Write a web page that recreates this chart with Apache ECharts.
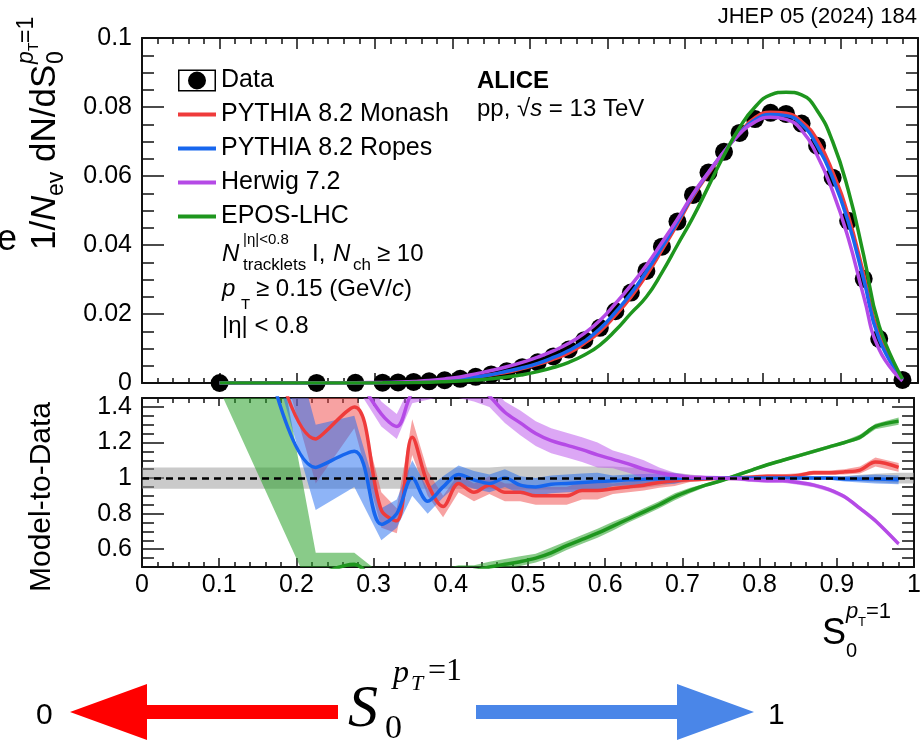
<!DOCTYPE html>
<html>
<head>
<meta charset="utf-8">
<script src="https://cdn.jsdelivr.net/npm/echarts@6/dist/echarts.min.js"></script>
<style>
  html, body { margin: 0; padding: 0; background: #fff; }
  #chart-container { width: 924px; height: 741px; }
</style>
</head>
<body>
<div id="chart-container"></div>
<script>
// bin centres of the measurement
const dataX = [0.1, 0.225, 0.275, 0.31, 0.33, 0.35, 0.37, 0.39,
  0.41, 0.43, 0.45, 0.47, 0.49, 0.51, 0.53, 0.55, 0.57, 0.59,
  0.61, 0.63, 0.65, 0.67, 0.69,
  0.71, 0.73, 0.75, 0.77, 0.79, 0.81, 0.83, 0.85, 0.87, 0.89,
  0.91, 0.93, 0.95, 0.98];

// top panel: 1/Nev dN/dS0
const dataY = [0.0, 0.00003, 0.00006, 0.0001, 0.00018, 0.0003, 0.00048, 0.0008,
  0.0012, 0.0018, 0.0025, 0.0034, 0.0046, 0.0060, 0.0077, 0.0097, 0.0124, 0.0160,
  0.0208, 0.0262, 0.0325, 0.0395, 0.0468,
  0.0545, 0.0610, 0.0670, 0.0725, 0.0765, 0.0783, 0.0780, 0.0752, 0.0688, 0.0595,
  0.0470, 0.0302, 0.0128, 0.0009];
const monashY = [0.0, 0.00004, 0.00008, 0.00008, 0.00014, 0.00037, 0.00047, 0.00067,
  0.00116, 0.00166, 0.0024, 0.0031, 0.0042, 0.0054, 0.0069, 0.0087, 0.0115, 0.0149,
  0.0196, 0.0249, 0.0312, 0.0385, 0.0461,
  0.0540, 0.0607, 0.0670, 0.0725, 0.0769, 0.0785, 0.0782, 0.0758, 0.0705, 0.0612,
  0.0486, 0.0316, 0.0138, 0.0010];
const ropesY = [0.0, 0.00003, 0.00007, 0.00007, 0.00015, 0.0003, 0.00042, 0.00076,
  0.00122, 0.00178, 0.00243, 0.0034, 0.0044, 0.0057, 0.0074, 0.0094, 0.0121, 0.0157,
  0.0205, 0.0259, 0.0323, 0.0394, 0.0467,
  0.0545, 0.0610, 0.0670, 0.0724, 0.0763, 0.0778, 0.0775, 0.0750, 0.0688, 0.0595,
  0.0468, 0.0300, 0.0127, 0.0009];
const herwigY = [0.00001, 0.00006, 0.0001, 0.00014, 0.00023, 0.00044, 0.0007, 0.00118,
  0.00176, 0.00265, 0.0036, 0.0047, 0.0060, 0.0075, 0.0093, 0.0115, 0.0144, 0.0181,
  0.0230, 0.0283, 0.0341, 0.0407, 0.0475,
  0.0548, 0.0611, 0.0670, 0.0722, 0.0757, 0.0770, 0.0764, 0.0733, 0.0660, 0.0556,
  0.0421, 0.0251, 0.0097, 0.0006];
const eposY = [0.0, 0.00001, 0.00003, 0.00004, 0.00007, 0.00013, 0.00021, 0.00036,
  0.00056, 0.00086, 0.00125, 0.00175, 0.0024, 0.0033, 0.0045, 0.0060, 0.0081, 0.0110,
  0.0152, 0.0202, 0.0250, 0.0320, 0.0400,
  0.0480, 0.0570, 0.0660, 0.0740, 0.0800, 0.0835, 0.0843, 0.0835, 0.0790, 0.0700,
  0.0560, 0.0370, 0.0165, 0.0012];

// bottom panel: model-to-data ratios and their uncertainties
const monashRatio = [3.2, 1.22, 1.40, 0.82, 0.76, 1.23, 0.97, 0.84,
  0.97, 0.92, 0.96, 0.92, 0.92, 0.90, 0.90, 0.90, 0.93, 0.93,
  0.94, 0.95, 0.96, 0.975, 0.985,
  0.99, 0.995, 1.0, 1.0, 1.005, 1.01, 1.01, 1.015, 1.03, 1.03,
  1.035, 1.045, 1.09, 1.06];
const monashErr = [0.3, 0.25, 0.12, 0.1, 0.07, 0.1, 0.07, 0.06,
  0.05, 0.05, 0.05, 0.05, 0.05, 0.05, 0.05, 0.05, 0.05, 0.05,
  0.03, 0.03, 0.03, 0.03, 0.03,
  0.012, 0.012, 0.012, 0.012, 0.012, 0.012, 0.012, 0.012, 0.012, 0.012,
  0.015, 0.02, 0.025, 0.025];
const ropesRatio = [3.0, 1.06, 1.15, 0.74, 0.80, 1.0, 0.87, 0.95,
  1.02, 0.99, 0.97, 1.0, 0.96, 0.95, 0.965, 0.97, 0.975, 0.98,
  0.985, 0.99, 0.993, 0.996, 0.998,
  1.0, 1.0, 1.0, 1.0, 1.0, 1.0, 1.0, 1.0, 1.0, 1.0,
  0.995, 0.995, 0.995, 0.99];
const ropesErr = [0.3, 0.24, 0.2, 0.09, 0.08, 0.1, 0.07, 0.06,
  0.05, 0.05, 0.05, 0.05, 0.05, 0.05, 0.05, 0.05, 0.05, 0.05,
  0.03, 0.03, 0.03, 0.03, 0.03,
  0.01, 0.01, 0.01, 0.01, 0.01, 0.01, 0.01, 0.01, 0.01, 0.01,
  0.015, 0.02, 0.025, 0.025];
const herwigRatio = [3.0, 2.0, 1.6, 1.36, 1.29, 1.48, 1.52, 1.56,
  1.56, 1.53, 1.46, 1.37, 1.31, 1.25, 1.21, 1.185, 1.16, 1.13,
  1.105, 1.08, 1.05, 1.03, 1.015,
  1.005, 1.002, 1.0, 0.998, 0.99, 0.985, 0.985, 0.975, 0.96, 0.935,
  0.895, 0.83, 0.76, 0.63];
const herwigErr = [0.1, 0.1, 0.07, 0.07, 0.07, 0.06, 0.08, 0.1,
  0.11, 0.1, 0.06, 0.06, 0.07, 0.07, 0.07, 0.07, 0.07, 0.07,
  0.05, 0.05, 0.05, 0.03, 0.015,
  0.012, 0.012, 0.012, 0.012, 0.012, 0.012, 0.012, 0.012, 0.012, 0.012,
  0.012, 0.012, 0.012, 0.012];
const eposRatio = [null, 0.45, 0.515, 0.40, 0.40, 0.42, 0.44, 0.45,
  0.47, 0.48, 0.50, 0.515, 0.53, 0.55, 0.58, 0.62, 0.655, 0.69,
  0.73, 0.77, 0.81, 0.85, 0.895,
  0.93, 0.96, 0.985, 1.015, 1.045, 1.075, 1.10, 1.125, 1.15, 1.175,
  1.20, 1.23, 1.29, 1.32];
const eposLo = [1.5, 0.31, 0.45, 0.34, 0.34, 0.37, 0.39, 0.41,
  0.43, 0.45, 0.47, 0.49, 0.505, 0.525, 0.555, 0.595, 0.63, 0.665,
  0.705, 0.75, 0.79, 0.83, 0.875,
  0.915, 0.95, 0.977, 1.005, 1.035, 1.065, 1.09, 1.115, 1.14, 1.165,
  1.19, 1.215, 1.275, 1.30];
const eposHi = [3.5, 0.58, 0.58, 0.46, 0.46, 0.47, 0.49, 0.49,
  0.51, 0.51, 0.53, 0.545, 0.56, 0.575, 0.61, 0.645, 0.68, 0.715,
  0.755, 0.79, 0.83, 0.87, 0.915,
  0.945, 0.97, 0.993, 1.025, 1.055, 1.085, 1.11, 1.135, 1.16, 1.185,
  1.21, 1.245, 1.305, 1.34];
// data uncertainty band (grey), spans the full axis
const uncX = [0].concat(dataX, [1]);
const dataUnc = [0.06, 0.06, 0.06, 0.06, 0.06, 0.06, 0.06, 0.06, 0.06, 0.06, 0.06, 0.06,
  0.065, 0.065, 0.065, 0.065, 0.065, 0.065, 0.065, 0.065,
  0.06, 0.055, 0.045, 0.03, 0.02, 0.01,
  0.005, 0.005, 0.005, 0.005, 0.005, 0.005,
  0.006, 0.008, 0.012, 0.018, 0.024, 0.03, 0.03];

const xTicks = [0, 1, 0.1];       // min, max, step
const yTopTicks = [0, 0.1, 0.02];
const yRatioRange = [0.5, 1.45, 0.2];

const SANS = 'Liberation Sans, Arial, sans-serif';
const SERIF = 'Liberation Serif, DejaVu Serif, serif';
const colors = {
  monash: '#ef3b3b', ropes: '#1766ee', herwig: '#b54ae6', epos: '#1e961e'
};
const bandColors = {
  monash: 'rgba(240,70,70,0.5)', ropes: 'rgba(30,105,240,0.5)',
  herwig: 'rgba(185,80,235,0.5)', epos: 'rgba(40,160,40,0.55)', data: 'rgba(150,150,150,0.5)'
};

const chartContainer = document.getElementById('chart-container');
const myChart = echarts.init(chartContainer);

const pairs = (xs, ys) => xs.map((x, i) => [x, ys[i]]);

// an error band: polygon along the upper edge and back along the lower edge
function band(name, xs, lo, hi, color) {
  return {
    name: name, type: 'custom', xAxisIndex: 2, yAxisIndex: 2, silent: true, z: 2, clip: true,
    data: [[xs[0], lo[0]]],
    renderItem: function (params, api) {
      const pts = [];
      for (let i = 0; i < xs.length; i++) pts.push(api.coord([xs[i], hi[i]]));
      for (let i = xs.length - 1; i >= 0; i--) pts.push(api.coord([xs[i], lo[i]]));
      const cs = params.coordSys;
      return {
        type: 'polygon', shape: { points: pts }, style: { fill: color },
        clipPath: { type: 'rect', shape: { x: cs.x, y: cs.y, width: cs.width, height: cs.height } }
      };
    }
  };
}
function modelBand(name, vals, errs, color) {
  return band(name, dataX,
    vals.map((v, i) => v - errs[i]), vals.map((v, i) => v + errs[i]), color);
}
function ratioLine(name, vals, color) {
  return {
    name: name, type: 'line', xAxisIndex: 2, yAxisIndex: 2, data: pairs(dataX, vals),
    smooth: 0.35, symbol: 'none', silent: true, lineStyle: { color: color, width: 3.5 }, z: 3
  };
}
function topLine(name, vals, color) {
  return {
    name: name, type: 'line', xAxisIndex: 0, yAxisIndex: 0, data: pairs(dataX, vals),
    smooth: true, symbol: 'none', lineStyle: { color: color, width: 3.5 },
    itemStyle: { color: color }, z: 4
  };
}

function xAxisDef(grid, pos, labels, major, minor) {
  return {
    type: 'value', gridIndex: grid, position: pos, min: xTicks[0], max: xTicks[1], interval: xTicks[2],
    axisLine: { onZero: false, lineStyle: { color: '#111', width: 2 } },
    axisTick: { inside: true, length: major, lineStyle: { color: '#111', width: 1.5 } },
    minorTick: { show: true, splitNumber: 5, length: minor, lineStyle: { color: '#111', width: 1.5 } },
    axisLabel: { show: labels, color: '#000', fontSize: 25, fontFamily: SANS, margin: 6 },
    splitLine: { show: false }
  };
}
function yAxisDef(grid, pos, labels, range, fixedInterval) {
  const ax = {
    type: 'value', gridIndex: grid, position: pos, min: range[0], max: range[1],
    axisLine: { onZero: false, lineStyle: { color: '#111', width: 2 } },
    axisTick: { inside: true, length: 22, lineStyle: { color: '#111', width: 1.5 } },
    minorTick: { show: true, splitNumber: 4, length: 12, lineStyle: { color: '#111', width: 1.5 } },
    axisLabel: { show: labels, color: '#000', fontSize: 25, fontFamily: SANS, margin: 10,
      showMinLabel: fixedInterval, showMaxLabel: fixedInterval },
    splitLine: { show: false }
  };
  if (fixedInterval) ax.interval = range[2];
  else { ax.minInterval = range[2]; ax.maxInterval = range[2]; }
  return ax;
}

// text helper for annotations
function t(x, y, text, size, extra) {
  return {
    type: 'text', x: x, y: y, silent: true,
    style: Object.assign({ text: text, fontSize: size, fontFamily: SANS, fill: '#000',
      align: 'left', verticalAlign: 'middle' }, extra || {})
  };
}
const it = { fontStyle: 'italic' };

const dataIcon = 'path://M0,0H38V22H0Z M1.5,1.5V20.5H36.5V1.5Z M19,2A9,9 0 1 0 19,20A9,9 0 1 0 19,2Z';
const lineIcon = 'path://M0,9H38V13H0Z M0,0h0.1v0.1h-0.1Z M37.9,21.9h0.1v0.1h-0.1Z';

const option = {
  animation: false,
  backgroundColor: '#fff',
  grid: [
    { left: 142, top: 38, width: 776, height: 345 },
    { left: 142, top: 398, width: 776, height: 169 }
  ],
  legend: {
    orient: 'vertical', left: 178, top: 68, padding: 0,
    itemWidth: 38, itemHeight: 22, itemGap: 9,
    selectedMode: false,
    textStyle: { fontSize: 25, fontFamily: SANS, color: '#000', lineHeight: 22 },
    data: [
      { name: 'Data', icon: dataIcon, itemStyle: { color: '#000', borderWidth: 0, opacity: 1 } },
      { name: 'PYTHIA 8.2 Monash', icon: lineIcon, itemStyle: { borderWidth: 0 } },
      { name: 'PYTHIA 8.2 Ropes', icon: lineIcon, itemStyle: { borderWidth: 0 } },
      { name: 'Herwig 7.2', icon: lineIcon, itemStyle: { borderWidth: 0 } },
      { name: 'EPOS-LHC', icon: lineIcon, itemStyle: { borderWidth: 0 } }
    ]
  },
  xAxis: [
    xAxisDef(0, 'bottom', false, 10, 5),
    xAxisDef(0, 'top', false, 11, 6),
    xAxisDef(1, 'bottom', true, 9, 5),
    xAxisDef(1, 'top', false, 8, 5)
  ],
  yAxis: [
    yAxisDef(0, 'left', true, yTopTicks, true),
    yAxisDef(0, 'right', false, yTopTicks, true),
    yAxisDef(1, 'left', true, yRatioRange, false),
    yAxisDef(1, 'right', false, yRatioRange, false)
  ],
  series: [
    {
      name: 'Data', type: 'scatter', xAxisIndex: 0, yAxisIndex: 0, data: pairs(dataX, dataY),
      symbol: 'circle', symbolSize: 18, itemStyle: { color: '#000', opacity: 1 }, z: 3
    },
    topLine('PYTHIA 8.2 Monash', monashY, colors.monash),
    topLine('PYTHIA 8.2 Ropes', ropesY, colors.ropes),
    topLine('Herwig 7.2', herwigY, colors.herwig),
    topLine('EPOS-LHC', eposY, colors.epos),

    band('data-unc', uncX, uncX.map((x, i) => 1 - dataUnc[i]), uncX.map((x, i) => 1 + dataUnc[i]), bandColors.data),
    band('epos-r', dataX, eposLo, eposHi, bandColors.epos),
    ratioLine('EPOS ratio', eposRatio, colors.epos),
    modelBand('monash-r', monashRatio, monashErr, bandColors.monash),
    ratioLine('Monash ratio', monashRatio, colors.monash),
    modelBand('ropes-r', ropesRatio, ropesErr, bandColors.ropes),
    ratioLine('Ropes ratio', ropesRatio, colors.ropes),
    modelBand('herwig-r', herwigRatio, herwigErr, bandColors.herwig),
    Object.assign(ratioLine('Herwig ratio', herwigRatio, colors.herwig), {
      markLine: {
        silent: true, symbol: 'none', label: { show: false },
        lineStyle: { color: '#000', width: 2.5, type: [7, 5] },
        data: [{ yAxis: 1 }]
      }
    })
  ],
  graphic: {
    elements: [
      t(917, 17, 'JHEP 05 (2024) 184', 22, { align: 'right' }),
      t(-3, 240, 'e', 36),
      // top y title, rotated
      {
        type: 'group', x: 57, y: 250, rotation: Math.PI / 2,
        children: [
          t(0, -12, '1/', 35),
          t(29, -12, 'N', 35, it),
          t(54, 0, 'ev', 23),
          t(88, -12, 'dN/dS', 35),
          t(186, 0, '0', 23),
          t(186, -30, 'p', 23, it),
          t(199, -23, 'T', 14),
          t(207, -30, '=1', 23)
        ]
      },
      {
        type: 'text', x: 42, y: 497, rotation: Math.PI / 2, silent: true,
        style: { text: 'Model-to-Data', fontSize: 30, fontFamily: SANS, fill: '#000',
          align: 'center', verticalAlign: 'middle' }
      },
      // selection text
      t(222, 254.6, 'N', 24, it),
      t(243, 240, '|η|<0.8', 15),
      t(243, 265, 'tracklets', 17),
      t(312, 254.6, 'I,', 24),
      t(333, 254.6, 'N', 24, it),
      t(353, 265, 'ch', 17),
      t(377, 254.6, '≥ 10', 24),
      t(222, 289.6, 'p', 24, it),
      t(241, 305, 'T', 15),
      t(256, 289.6, '≥ 0.15 (GeV/{i|c})', 24, { rich: { i: { fontStyle: 'italic', fontSize: 24, fontFamily: SANS, fill: '#000' } } }),
      t(222, 326.6, '|η| < 0.8', 24),
      t(477, 81.6, 'ALICE', 24, { fontWeight: 'bold' }),
      t(477, 109.6, 'pp, √{i|s} = 13 TeV', 24, { rich: { i: { fontStyle: 'italic', fontSize: 24, fontFamily: SANS, fill: '#000' } } }),
      // x title
      t(822, 634, 'S', 36),
      t(846, 651, '0', 20),
      t(846, 612, 'p', 22, it),
      t(858, 622, 'T', 13),
      t(866, 612, '=1', 22),
      // arrows below
      {
        type: 'polygon', silent: true,
        shape: { points: [[70, 712], [147, 684], [147, 705], [338, 705], [338, 719], [147, 719], [147, 740]] },
        style: { fill: '#ff0000' }
      },
      {
        type: 'polygon', silent: true,
        shape: { points: [[754, 712], [677, 684], [677, 705], [476, 705], [476, 719], [677, 719], [677, 740]] },
        style: { fill: '#4a86e8' }
      },
      t(36, 716, '0', 30),
      t(768, 716, '1', 30),
      t(348, 710, 'S', 60, { fontFamily: SERIF, fontStyle: 'italic' }),
      t(385, 729, '0', 34, { fontFamily: SERIF }),
      t(393, 674, 'p', 32, { fontFamily: SERIF, fontStyle: 'italic' }),
      t(411, 684, 'T', 22, { fontFamily: SERIF, fontStyle: 'italic' }),
      t(428, 672, '=1', 32, { fontFamily: SERIF })
    ]
  }
};

myChart.setOption(option);
</script>
</body>
</html>
